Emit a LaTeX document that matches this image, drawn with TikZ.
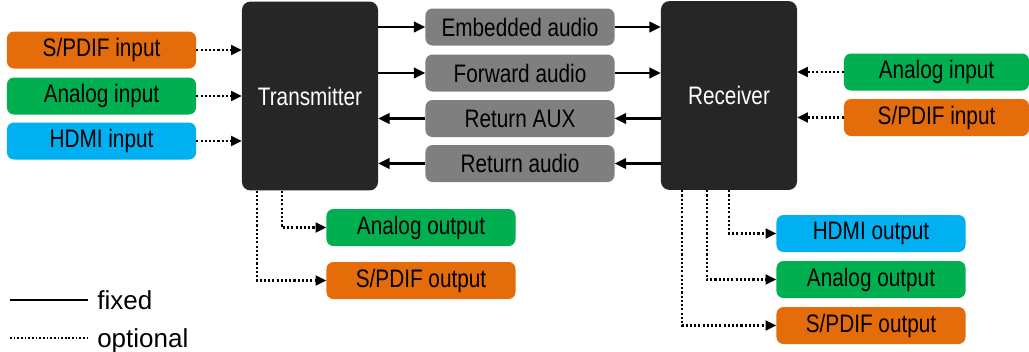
\documentclass[tikz,border=0pt]{standalone}
\usepackage{fontspec}
\setmainfont{Liberation Sans}
\newfontfamily\condfont[FakeStretch=0.82]{Liberation Sans}
\usetikzlibrary{arrows.meta,positioning}

\definecolor{spdiforange}{HTML}{E46C0A}
\definecolor{analoggreen}{HTML}{00B050}
\definecolor{hdmiblue}{HTML}{00B0F0}
\definecolor{linkgray}{HTML}{7F7F7F}
\definecolor{darkbox}{HTML}{262626}

\begin{document}
\begin{tikzpicture}[x=0.025cm, y=-0.025cm,
        port/.style={rectangle, rounded corners=5pt, minimum width=4.725cm, minimum height=0.925cm, inner sep=0pt, text centered, font=\condfont\fontsize{18}{20}\selectfont},
        unit/.style={rectangle, rounded corners=6pt, fill=darkbox, minimum width=3.4cm, minimum height=4.72cm, inner sep=0pt, text=white, font=\condfont\fontsize{18}{20}\selectfont},
        link/.style={port, fill=linkgray},
        fixline/.style={-{Triangle[length=8pt,width=7.5pt]}, line width=1.6pt},
        optline/.style={-{Triangle[length=7.5pt,width=7pt]}, line width=1.6pt, dash pattern=on 1.5pt off 1.5pt},
        legend/.style={inner sep=0pt, anchor=base west, font=\fontsize{18.5}{20}\selectfont}
    ]
        \useasboundingbox (0,0) rectangle (1029,351);

        \node[unit] (tx) at (310,96) {Transmitter};
        \node[unit] (rx) at (729,95.5) {Receiver};

        % transmitter inputs
        \node[port, fill=spdiforange] (txspdif) at (101.5,50) {S/PDIF input};
        \node[port, fill=analoggreen] (txanalog) at (101.5,96) {Analog input};
        \node[port, fill=hdmiblue] (txhdmi) at (101.5,141) {HDMI input};

        % links
        \node[link] (embedded) at (520,27) {Embedded audio};
        \node[link] (forward) at (520,73) {Forward audio};
        \node[link] (retaux) at (520,118.5) {Return AUX};
        \node[link] (retaudio) at (520,163.5) {Return audio};

        % receiver inputs
        \node[port, fill=analoggreen, minimum width=4.625cm] (rxanalog) at (936.5,72) {Analog input};
        \node[port, fill=spdiforange, minimum width=4.625cm] (rxspdif) at (936.5,117.5) {S/PDIF input};

        % outputs
        \node[port, fill=analoggreen] (txaout) at (421,227.5) {Analog output};
        \node[port, fill=spdiforange] (txsout) at (421,280.5) {S/PDIF output};
        \node[port, fill=hdmiblue] (rxhout) at (871,233.5) {HDMI output};
        \node[port, fill=analoggreen] (rxaout) at (871,279.5) {Analog output};
        \node[port, fill=spdiforange] (rxsout) at (871,325.5) {S/PDIF output};

        \draw[optline] (txspdif) -- (txspdif -| tx.west);
        \draw[optline] (txanalog) -- (txanalog -| tx.west);
        \draw[optline] (txhdmi) -- (txhdmi -| tx.west);

        \draw[fixline] (embedded -| tx.east) -- (embedded);
        \draw[fixline] (embedded) -- (embedded -| rx.west);
        \draw[fixline] (forward -| tx.east) -- (forward);
        \draw[fixline] (forward) -- (forward -| rx.west);
        \draw[fixline] (retaux -| rx.west) -- (retaux);
        \draw[fixline] (retaux) -- (retaux -| tx.east);
        \draw[fixline] (retaudio -| rx.west) -- (retaudio);
        \draw[fixline] (retaudio) -- (retaudio -| tx.east);

        \draw[optline] (rxanalog) -- (rxanalog -| rx.east);
        \draw[optline] (rxspdif) -- (rxspdif -| rx.east);

        \draw[optline] ([xshift=1cm]tx.south west) |- (txaout);
        \draw[optline] ([xshift=0.375cm]tx.south west) |- (txsout);
        \draw[optline] (rx.south) |- (rxhout);
        \draw[optline] ([xshift=1.15cm]rx.south west) |- (rxaout);
        \draw[optline] ([xshift=0.525cm]rx.south west) |- (rxsout);

        % legend
        \coordinate (fixstart) at (10,300);
        \coordinate (fixend) at (88,300);
        \coordinate (optstart) at (10,338);
        \coordinate (optend) at (88,338);
        \draw[line width=1.4pt] (fixstart) -- (fixend);
        \draw[line width=1.2pt, dash pattern=on 1.2pt off 1.4pt] (optstart) -- (optend);
        \node[legend] (fixedlbl) at (97,309) {fixed};
        \node[legend] (optionallbl) at (97,347) {optional};
    \end{tikzpicture}
\end{document}
